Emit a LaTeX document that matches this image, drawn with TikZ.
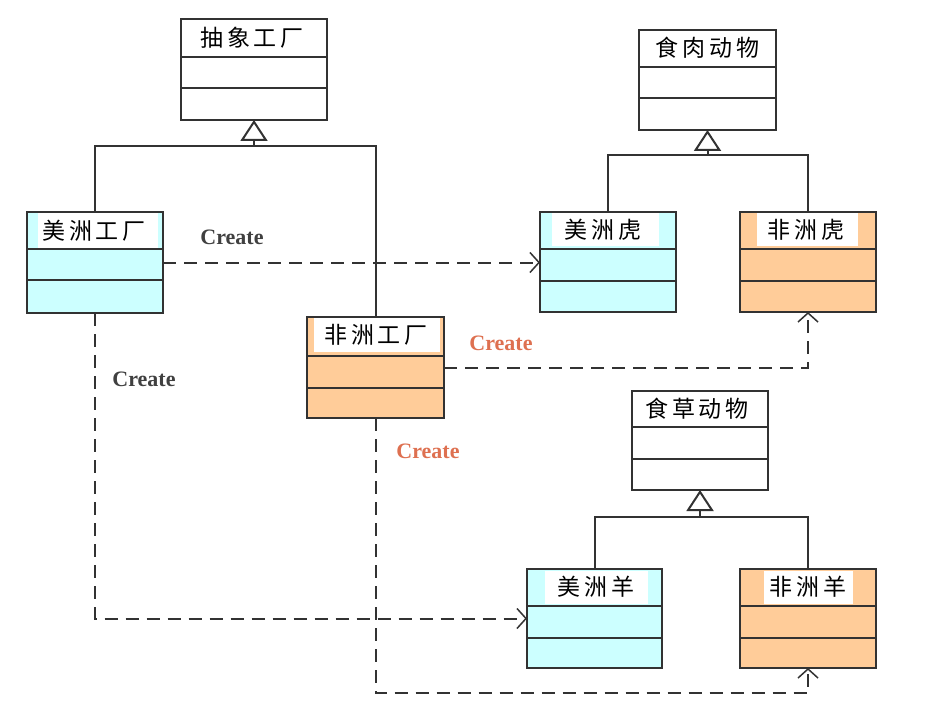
\documentclass[tikz,border=0pt]{standalone}
\usepackage{fontspec}
\newfontfamily\cjk[LetterSpace=16]{Noto Sans CJK SC}
\setmainfont{Liberation Serif}
\usetikzlibrary{arrows.meta,calc}
\definecolor{cyanfill}{RGB}{204,255,255}
\definecolor{orangefill}{RGB}{255,204,153}
\definecolor{linec}{RGB}{50,50,50}
\definecolor{creategray}{RGB}{64,64,64}
\definecolor{createorange}{RGB}{222,112,80}
\begin{document}
\begin{tikzpicture}[x=1pt,y=-1pt,
 classbox/.style={draw=linec,line width=2pt,inner sep=0pt,outer sep=0pt},
 titlebg/.style={fill=white,inner sep=0pt,outer sep=0pt},
 titletext/.style={font=\cjk\fontsize{23}{23}\selectfont,inner sep=0pt},
 sepline/.style={draw=linec,line width=2pt},
 inherit/.style={draw=linec,line width=2pt},
 inhtip/.style={draw=linec,line width=2pt,-{Triangle[open,length=21pt,width=27pt]}},
 create/.style={draw=linec,line width=2pt,dash pattern=on 13pt off 8pt,-{Straight Barb[length=9pt,width=20pt,line width=1.5pt]}},
 createlabel/.style={font=\bfseries\fontsize{22}{22}\selectfont,inner sep=0pt}
]
\useasboundingbox[fill=white] (0,0) rectangle (934,722);

% ---------- boxes ----------
% abstract factory
\node[classbox,fill=white,minimum width=146pt,minimum height=101pt] (af) at (254,69.5) {};
\node[titletext] (aft) at (252,38) {抽象工厂};
\draw[sepline] (af.west |- 0,57) -- (af.east |- 0,57);
\draw[sepline] (af.west |- 0,88) -- (af.east |- 0,88);

% american factory
\node[classbox,fill=cyanfill,minimum width=136pt,minimum height=101pt] (amf) at (95,262.5) {};
\node[titlebg,minimum width=120pt,minimum height=36pt] (amfbg) at (98,231) {};
\node[titletext] (amft) at (94,231) {美洲工厂};
\draw[sepline] (amf.west |- 0,249) -- (amf.east |- 0,249);
\draw[sepline] (amf.west |- 0,280) -- (amf.east |- 0,280);

% african factory
\node[classbox,fill=orangefill,minimum width=137pt,minimum height=101pt] (aff) at (375.5,367.5) {};
\node[titlebg,minimum width=126pt,minimum height=34pt] (affbg) at (377,335) {};
\node[titletext] (afft) at (376,335) {非洲工厂};
\draw[sepline] (aff.west |- 0,356) -- (aff.east |- 0,356);
\draw[sepline] (aff.west |- 0,388) -- (aff.east |- 0,388);

% carnivore
\node[classbox,fill=white,minimum width=137pt,minimum height=100pt] (carn) at (707.5,80) {};
\node[titletext] (carnt) at (707.5,48) {食肉动物};
\draw[sepline] (carn.west |- 0,67) -- (carn.east |- 0,67);
\draw[sepline] (carn.west |- 0,98) -- (carn.east |- 0,98);

% american tiger
\node[classbox,fill=cyanfill,minimum width=136pt,minimum height=100pt] (amt) at (608,262) {};
\node[titlebg,minimum width=107pt,minimum height=33pt] (amtbg) at (605.5,229.5) {};
\node[titletext] (amtt) at (603,230) {美洲虎};
\draw[sepline] (amt.west |- 0,249) -- (amt.east |- 0,249);
\draw[sepline] (amt.west |- 0,281) -- (amt.east |- 0,281);

% african tiger
\node[classbox,fill=orangefill,minimum width=136pt,minimum height=100pt] (aftg) at (808,262) {};
\node[titlebg,minimum width=101pt,minimum height=33pt] (aftgbg) at (807.5,229.5) {};
\node[titletext] (aftgt) at (806,230) {非洲虎};
\draw[sepline] (aftg.west |- 0,249) -- (aftg.east |- 0,249);
\draw[sepline] (aftg.west |- 0,281) -- (aftg.east |- 0,281);

% herbivore
\node[classbox,fill=white,minimum width=136pt,minimum height=99pt] (herb) at (700,440.5) {};
\node[titletext] (herbt) at (697,409) {食草动物};
\draw[sepline] (herb.west |- 0,427) -- (herb.east |- 0,427);
\draw[sepline] (herb.west |- 0,459) -- (herb.east |- 0,459);

% american sheep
\node[classbox,fill=cyanfill,minimum width=135pt,minimum height=99pt] (ams) at (594.5,618.5) {};
\node[titlebg,minimum width=103pt,minimum height=33pt] (amsbg) at (596.5,587.5) {};
\node[titletext] (amst) at (596,587) {美洲羊};
\draw[sepline] (ams.west |- 0,606) -- (ams.east |- 0,606);
\draw[sepline] (ams.west |- 0,638) -- (ams.east |- 0,638);

% african sheep
\node[classbox,fill=orangefill,minimum width=136pt,minimum height=99pt] (afs) at (808,618.5) {};
\node[titlebg,minimum width=89pt,minimum height=33pt] (afsbg) at (808.5,587.5) {};
\node[titletext] (afst) at (808,587) {非洲羊};
\draw[sepline] (afs.west |- 0,606) -- (afs.east |- 0,606);
\draw[sepline] (afs.west |- 0,638) -- (afs.east |- 0,638);

% ---------- inheritance ----------
\coordinate (fbar) at (254,146);
\coordinate (tbar) at (707.5,155);
\coordinate (sbar) at (700,517);
\draw[inherit] (amf.north) |- (fbar) -| (aff.north);
\draw[inhtip] (fbar) -- (af.south);
\draw[inherit] (amt.north) |- (tbar) -| (aftg.north);
\draw[inhtip] (tbar) -- (carn.south);
\draw[inherit] (ams.north) |- (sbar) -| (afs.north);
\draw[inhtip] (sbar) -- (herb.south);

% ---------- create dependencies ----------
\coordinate (lowy) at (0,693);
\draw[create] (amf.east) -- (amf.east -| amt.west);
\draw[create] (aff.east) -| (aftg.south);
\draw[create] (amf.south) |- (ams.west);
\draw[create] (aff.south) |- (lowy -| afs.south) -- (afs.south);

% ---------- labels ----------
\node[createlabel,text=creategray] (c1) at (232,237) {Create};
\node[createlabel,text=createorange] (c2) at (501,343) {Create};
\node[createlabel,text=creategray] (c3) at (144,379) {Create};
\node[createlabel,text=createorange] (c4) at (428,451) {Create};
\end{tikzpicture}
\end{document}
